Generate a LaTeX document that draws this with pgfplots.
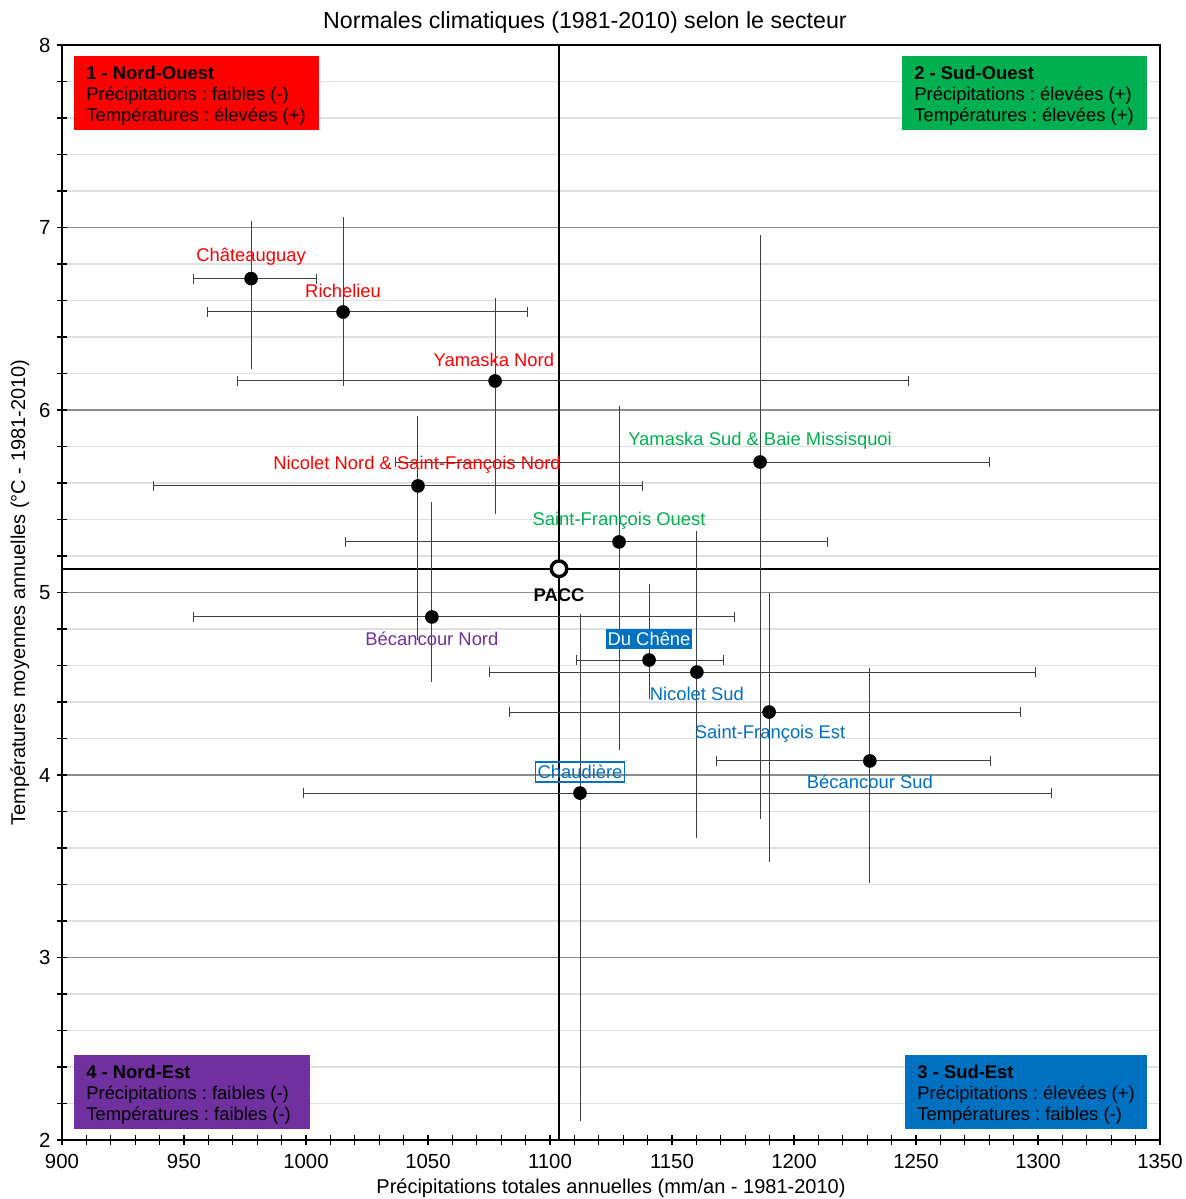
\documentclass[border=0pt]{standalone}
\usepackage{pgfplots}
\usepackage{pgfplotstable}
\pgfplotsset{compat=1.18}
\usepackage{fontspec}
\setmainfont{Liberation Sans}
\definecolor{qred}{HTML}{FF0000}
\definecolor{qgreen}{HTML}{00B050}
\definecolor{qpurple}{HTML}{7030A0}
\definecolor{qblue}{HTML}{0070C0}
\pgfplotstableread{
x y xp xm yp ym
977.5 6.720 27.0 23.8 0.290 0.470
1015.2 6.537 75.4 55.4 0.493 0.378
1077.5 6.159 169.6 105.4 0.427 0.701
1186.1 5.715 94.2 149.6 1.217 1.927
1045.9 5.584 92.2 108.6 0.356 0.817
1128.3 5.277 85.6 112.0 0.718 1.114
1051.6 4.866 124.2 97.8 0.602 0.329
1140.6 4.630 30.7 29.7 0.389 0.188
1160.2 4.564 138.9 84.8 0.744 0.884
1189.8 4.345 102.9 106.6 0.623 0.792
1231.1 4.077 49.4 62.7 0.480 0.643
1112.3 3.901 193.1 113.5 0.952 1.768
}\pts
\begin{document}
\frenchspacing
\fontsize{9.2}{10.5}\selectfont
\begin{tikzpicture}
\useasboundingbox (-31pt,-29.5pt) rectangle (561.5pt,570pt);
\begin{axis}[
  at={(0,0)}, anchor=south west,
  scale only axis, width=549pt, height=547.5pt,
  xmin=900, xmax=1350, ymin=2, ymax=8,
  xtick distance=50, ytick distance=1,
  minor x tick num=4, minor y tick num=4,
  xtick pos=bottom, ytick pos=left,
  tick align=center, major tick length=5pt, minor tick length=5pt,
  ymajorgrids, yminorgrids,
  major grid style={color=black!45, line width=0.6pt},
  minor grid style={color=black!12, line width=0.7pt},
  axis line style={line width=0.8pt},
  every tick/.style={black, line width=0.6pt},
  tick label style={font=\fontsize{10.2}{12}\selectfont},
  xticklabel style={yshift=-1.5pt},
  /pgf/number format/assume math mode=true,
  /pgf/number format/1000 sep={},
  xlabel={Précipitations totales annuelles (mm/an - 1981-2010)},
  ylabel={Températures moyennes annuelles (°C - 1981-2010)},
  xlabel style={at={(axis description cs:0.5,-0.0438)}, anchor=center, font=\fontsize{10}{12}\selectfont},
  ylabel style={at={(axis description cs:-0.0383,0.5)}, anchor=center, rotate=0, font=\fontsize{10}{12}\selectfont},
  clip=false,
]
\addplot[black, line width=1.2pt] coordinates {(1103.7,2) (1103.7,8)};
\addplot[black, line width=1.2pt] coordinates {(900,5.13) (1350,5.13)};
\addplot[only marks, mark=none, black!75,
  error bars/.cd, x dir=both, x explicit, error mark=|,
  error bar style={black!75, line width=0.5pt},
  error mark options={black!75, line width=0.5pt, mark size=2.5pt}]
  table[x=x,y=y,x error plus=xp,x error minus=xm]{\pts};
\addplot[only marks, mark=none, black!75,
  error bars/.cd, y dir=both, y explicit, error mark=-,
  error bar style={black!75, line width=0.5pt},
  error mark options={black!75, line width=0.5pt, mark size=2.5pt}]
  table[x=x,y=y,y error plus=yp,y error minus=ym]{\pts};
\addplot[only marks, mark=*, mark size=3.2pt, black] table[x=x,y=y]{\pts};
\addplot[only marks, mark=*, mark size=3.9pt, mark options={fill=white, draw=black, line width=1.7pt}] coordinates {(1103.7,5.13)};

\node[text=qred] at (axis cs:977.5,6.838) {Châteauguay};
\node[text=qred] at (axis cs:1015.2,6.652) {Richelieu};
\node[text=qred] at (axis cs:1077.0,6.274) {Yamaska Nord};
\node[text=qgreen] at (axis cs:1186.1,5.830) {Yamaska Sud \& Baie Missisquoi};
\node[text=qred] at (axis cs:1045.5,5.699) {Nicolet Nord \& Saint-François Nord};
\node[text=qgreen] at (axis cs:1128.3,5.392) {Saint-François Ouest};
\node[font=\bfseries] at (axis cs:1103.7,4.986) {PACC};
\node[text=qpurple] at (axis cs:1051.6,4.745) {Bécancour Nord};
\node[fill=qblue, text=white, inner xsep=1pt, inner ysep=1.5pt] at (axis cs:1140.6,4.745) {Du Chêne};
\node[text=qblue] at (axis cs:1160.2,4.444) {Nicolet Sud};
\node[text=qblue] at (axis cs:1190.2,4.225) {Saint-François Est};
\node[text=qblue] at (axis cs:1231.1,3.962) {Bécancour Sud};
\node[draw=qblue, line width=0.8pt, text=qblue, inner xsep=1pt, inner ysep=1.5pt] at (axis cs:1112.3,4.016) {Chaudière};

\node[fill=qred, anchor=north west, minimum width=122.5pt, minimum height=37pt, inner sep=0pt] at (rel axis cs:0.0109,0.990) {};
\node[anchor=north west, align=left, inner sep=0pt, xshift=6pt, yshift=-4.8pt] at (rel axis cs:0.0109,0.990)
  {\textbf{1 - Nord-Ouest}\\Précipitations : faibles (-)\\Températures : élevées (+)};
\node[fill=qgreen, anchor=north west, minimum width=122.5pt, minimum height=37pt, inner sep=0pt] at (rel axis cs:0.7650,0.990) {};
\node[anchor=north west, align=left, inner sep=0pt, xshift=6pt, yshift=-4.8pt] at (rel axis cs:0.7650,0.990)
  {\textbf{2 - Sud-Ouest}\\Précipitations : élevées (+)\\Températures : élevées (+)};
\node[fill=qpurple, anchor=north west, minimum width=118pt, minimum height=37pt, inner sep=0pt] at (rel axis cs:0.0109,0.0776) {};
\node[anchor=north west, align=left, inner sep=0pt, xshift=6pt, yshift=-4.8pt] at (rel axis cs:0.0109,0.0776)
  {\textbf{4 - Nord-Est}\\Précipitations : faibles (-)\\Températures : faibles (-)};
\node[fill=qblue, anchor=north west, minimum width=121pt, minimum height=37pt, inner sep=0pt] at (rel axis cs:0.7678,0.0776) {};
\node[anchor=north west, align=left, inner sep=0pt, xshift=6pt, yshift=-4.8pt] at (rel axis cs:0.7678,0.0776)
  {\textbf{3 - Sud-Est}\\Précipitations : élevées (+)\\Températures : faibles (-)};

\node[font=\fontsize{11.6}{13}\selectfont] at (rel axis cs:0.4763,1) [yshift=11pt] {Normales climatiques (1981-2010) selon le secteur};
\end{axis}
\end{tikzpicture}
\end{document}
